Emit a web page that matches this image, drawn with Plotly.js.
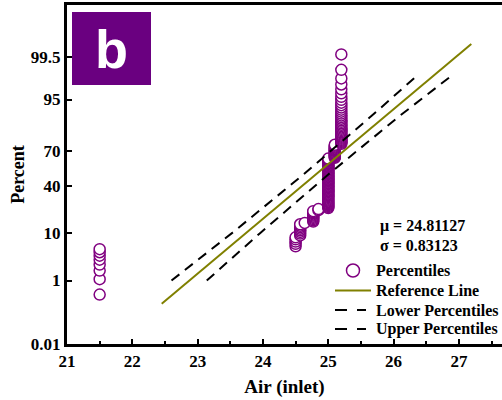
<!DOCTYPE html>
<html>
<head>
<meta charset="utf-8">
<script src="https://cdn.plot.ly/plotly-3.0.1.min.js"></script>
<style>html,body{margin:0;padding:0;background:#fff;}#chart{width:502px;height:400px;}</style>
</head>
<body>
<div id="chart"></div>
<script>
// ---- data ----
const groupTemps = [21.5, 24.5, 24.57, 24.64, 24.77, 24.85, 25.0, 25.1, 25.2];
const pct_21_5  = [0.42,1.08,1.75,2.41,3.08,3.74,4.41,5.07];
const pct_24_5  = [5.74,6.41,7.07,7.74,8.40];
const pct_24_57 = [9.07,9.73,10.40,11.06,11.73,12.40,13.06,13.73];
const pct_24_64 = [14.39];
const pct_24_77 = [15.06,15.72,16.39,17.05,17.72,18.39,19.05,19.72,20.38,21.05];
const pct_24_85 = [21.71,22.38];
const pct_25_0  = [23.05,23.71,24.38,25.04,25.71,26.37,27.04,27.70,28.37,29.04,29.70,30.37,31.03,31.70,32.36,33.03,33.69,34.36,35.03,35.69,36.36,37.02,37.69,38.35,39.02,39.68,40.35,41.02,41.68,42.35,43.01,43.68,44.34,45.01,45.67,46.34,47.01,47.67,48.34,49.00,49.67,50.33,51.00,51.66,52.33,52.99,53.66,54.33,54.99,55.66,56.32,56.99,57.65,58.32,58.99,59.65,60.32,60.98,61.65,62.31,62.98,63.64];
const pct_25_1  = [64.31,64.98,65.64,66.31,66.97,67.64,68.30,68.97,69.63,70.30,70.97,71.63,72.30,72.96,73.63,74.29];
const pct_25_2  = [74.96,75.62,76.29,76.96,77.62,78.29,78.95,79.62,80.28,80.95,81.61,82.28,82.95,83.61,84.28,84.94,85.61,86.27,86.94,87.60,88.27,88.94,89.60,90.27,90.93,91.60,92.26,92.93,93.59,94.26,94.93,95.59,96.26,96.92,97.59,98.25,98.92,99.58];
const groupPercents = [pct_21_5, pct_24_5, pct_24_57, pct_24_64, pct_24_77, pct_24_85, pct_25_0, pct_25_1, pct_25_2];

const refX = [22.45, 27.19];
const refP = [0.23, 99.79];
const bandP = [1, 10, 50, 90, 98.5];
const upperBandX = [22.60, 23.53, 24.62, 25.66, 26.36];
const lowerBandX = [23.14, 23.96, 25.00, 26.09, 26.89];

const yTickPercents = [0.01, 1, 10, 40, 70, 95, 99.5];
const yTickLabels = ['0.01', '1', '10', '40', '70', '95', '99.5'];
const xTicks = [21, 22, 23, 24, 25, 26, 27];
const legendLabels = ['Percentiles', 'Reference Line', 'Lower Percentiles', 'Upper Percentiles'];
const muText = '\u03bc = 24.81127';
const sigmaText = '\u03c3 = 0.83123';

// ---- probability (normal quantile) scale helper ----
function normInv(p) {
  const a=[-3.969683028665376e+01,2.209460984245205e+02,-2.759285104469687e+02,1.383577518672690e+02,-3.066479806614716e+01,2.506628277459239e+00];
  const b=[-5.447609879822406e+01,1.615858368580409e+02,-1.556989798598866e+02,6.680131188771972e+01,-1.328068155288572e+01];
  const c=[-7.784894002430293e-03,-3.223964580411365e-01,-2.400758277161838e+00,-2.549671875203275e+00,4.374664141464968e+00,2.938163982698783e+00];
  const d=[7.784695709041462e-03,3.224671290700398e-01,2.445134137142996e+00,3.754408661907416e+00];
  const pl=0.02425, ph=1-pl; let q, r;
  if (p < pl) { q=Math.sqrt(-2*Math.log(p)); return (((((c[0]*q+c[1])*q+c[2])*q+c[3])*q+c[4])*q+c[5])/((((d[0]*q+d[1])*q+d[2])*q+d[3])*q+1); }
  if (p > ph) { q=Math.sqrt(-2*Math.log(1-p)); return -(((((c[0]*q+c[1])*q+c[2])*q+c[3])*q+c[4])*q+c[5])/((((d[0]*q+d[1])*q+d[2])*q+d[3])*q+1); }
  q=p-0.5; r=q*q;
  return (((((a[0]*r+a[1])*r+a[2])*r+a[3])*r+a[4])*r+a[5])*q/(((((b[0]*r+b[1])*r+b[2])*r+b[3])*r+b[4])*r+1);
}
const z = pc => normInv(pc/100);

const ptsX = [], ptsP = [];
groupTemps.forEach((t, gi) => groupPercents[gi].forEach(pc => { ptsX.push(t); ptsP.push(pc); }));

const serif = 'Liberation Serif, Times New Roman, serif';
const purple = '#800080';
const olive = '#808000';
const bandDash = '10px,7px';

const traces = [
  { x: ptsX, y: ptsP.map(z), customdata: ptsP, type: 'scatter', mode: 'markers', name: legendLabels[0],
    marker: { symbol: 'circle', size: 11, color: '#ffffff', line: { color: purple, width: 1.5 } },
    hovertemplate: '%{x}, %{customdata}%<extra></extra>' },
  { x: refX, y: refP.map(z), type: 'scatter', mode: 'lines', name: legendLabels[1],
    line: { color: olive, width: 2 } },
  { x: lowerBandX, y: bandP.map(z), type: 'scatter', mode: 'lines', name: legendLabels[2],
    line: { color: '#000000', width: 2, dash: bandDash } },
  { x: upperBandX, y: bandP.map(z), type: 'scatter', mode: 'lines', name: legendLabels[3],
    line: { color: '#000000', width: 2, dash: bandDash } }
];

// pixel -> paper helpers for the plot area (l=67, r=0, t=5, b=56)
const px = v => (v - 67) / 435;
const py = v => (344 - v) / 339;

// hand-placed legend (to match the compact row spacing of the reference)
const legRowY = [270.5, 290.5, 310, 329];
const legShapes = [
  { type: 'circle', xref: 'paper', yref: 'paper', xsizemode: 'pixel', ysizemode: 'pixel',
    xanchor: px(353), yanchor: py(legRowY[0]), x0: -6.5, x1: 6.5, y0: -6.5, y1: 6.5,
    fillcolor: '#ffffff', line: { color: purple, width: 1.5 } },
  { type: 'line', xref: 'paper', yref: 'paper', x0: px(335), x1: px(371), y0: py(legRowY[1]), y1: py(legRowY[1]),
    line: { color: olive, width: 2 } },
  { type: 'line', xref: 'paper', yref: 'paper', x0: px(335), x1: px(366), y0: py(legRowY[2]), y1: py(legRowY[2]),
    line: { color: '#000', width: 2, dash: '12px,10px' } },
  { type: 'line', xref: 'paper', yref: 'paper', x0: px(335), x1: px(366), y0: py(legRowY[3]), y1: py(legRowY[3]),
    line: { color: '#000', width: 2, dash: '12px,10px' } }
];
const legTexts = legendLabels.map((t, i) => ({
  text: '<b>' + t + '</b>', xref: 'paper', yref: 'paper', x: px(374), y: py(legRowY[i]), xanchor: 'left', yanchor: 'middle',
  showarrow: false, font: { family: serif, size: 16, color: '#000' }
}));

const layout = {
  width: 502, height: 400,
  margin: { l: 67, r: 0, t: 5, b: 56 },
  paper_bgcolor: '#ffffff', plot_bgcolor: '#ffffff',
  font: { family: serif, color: '#000000', size: 16 },
  showlegend: false,
  xaxis: {
    range: [21, 27.66], tickvals: xTicks, ticktext: xTicks.map(v => '<b>' + v + '</b>'),
    showline: true, linecolor: '#000', linewidth: 3, mirror: true,
    ticks: 'inside', ticklen: 5, tickwidth: 2, tickcolor: '#000',
    minor: { dtick: 0.5, tick0: 21, ticks: 'inside', ticklen: 3, tickwidth: 2, tickcolor: '#000' },
    showgrid: false, zeroline: false,
    tickfont: { family: serif, size: 17 },
    title: { text: '<b>Air (inlet)</b>', font: { family: serif, size: 19 }, standoff: 10 }
  },
  yaxis: {
    range: [z(0.01), z(99.99)], tickvals: yTickPercents.map(z), ticktext: yTickLabels.map(t => '<b>' + t + '</b>'),
    showline: true, linecolor: '#000', linewidth: 3, mirror: false,
    ticks: 'inside', ticklen: 5, tickwidth: 2, tickcolor: '#000',
    showgrid: false, zeroline: false,
    tickfont: { family: serif, size: 17 },
    title: { text: '<b>Percent</b>', font: { family: serif, size: 18 }, standoff: 2 }
  },
  shapes: [
    { type: 'rect', xref: 'paper', yref: 'paper', x0: px(72), x1: px(151), y0: py(85), y1: py(12),
      fillcolor: '#6a0080', line: { width: 0 } }
  ].concat(legShapes),
  annotations: [
    { text: '<b>b</b>', xref: 'paper', yref: 'paper', x: px(111.5), y: py(49), xanchor: 'center', yanchor: 'middle', showarrow: false,
      font: { family: 'Liberation Sans, Arial, sans-serif', size: 54, color: '#ffffff' } },
    { text: '<b>' + muText + '</b>', xref: 'paper', yref: 'paper', x: px(378), y: py(225.5), xanchor: 'left', yanchor: 'middle', showarrow: false,
      font: { family: serif, size: 16 } },
    { text: '<b>' + sigmaText + '</b>', xref: 'paper', yref: 'paper', x: px(378), y: py(246), xanchor: 'left', yanchor: 'middle', showarrow: false,
      font: { family: serif, size: 16 } }
  ].concat(legTexts)
};

Plotly.newPlot('chart', traces, layout, { displayModeBar: false, staticPlot: true });
</script>
</body>
</html>
